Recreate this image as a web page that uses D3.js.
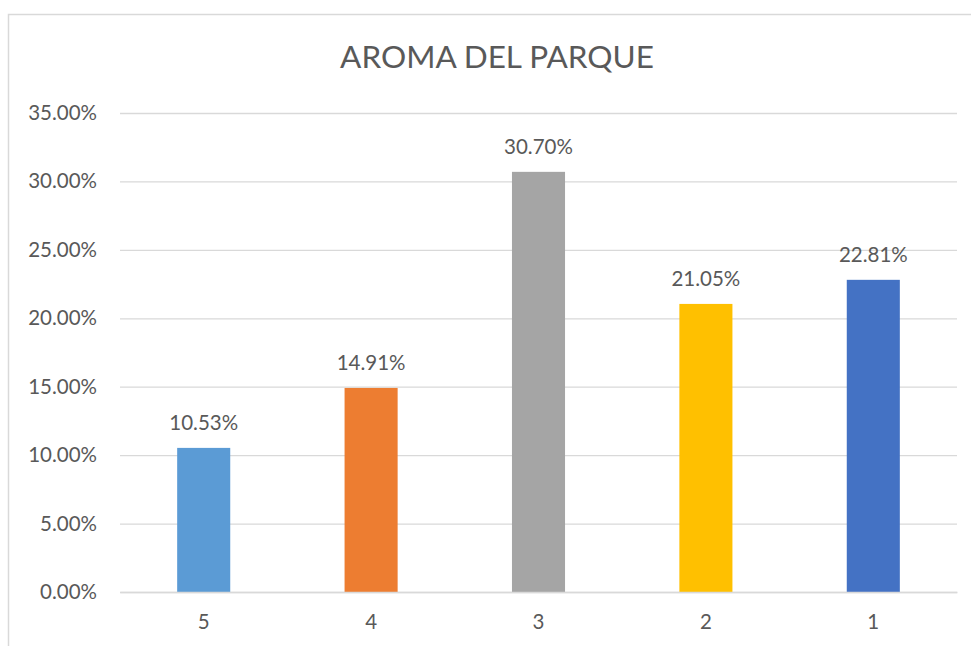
<!DOCTYPE html>
<html>
<head>
<meta charset="utf-8">
<script src="https://cdn.jsdelivr.net/npm/d3@7"></script>
<style>
  body { margin: 0; background: #fff; }
  text { font-family: Lato, "Open Sans", sans-serif; fill: #595959; }
</style>
</head>
<body>
<div id="root"></div>
<script>
var categories = ["5", "4", "3", "2", "1"];
var values = [0.1053, 0.1491, 0.3070, 0.2105, 0.2281];
var colors = ["#5B9BD5", "#ED7D31", "#A5A5A5", "#FFC000", "#4472C4"];
var yTicks = [0, 0.05, 0.10, 0.15, 0.20, 0.25, 0.30, 0.35];

var W = 971, H = 646;
var margin = { top: 113, right: 14, bottom: 54, left: 120 };
var width = W - margin.left - margin.right,
    height = H - margin.top - margin.bottom;

var svg = d3.select("#root").append("svg")
    .attr("width", W)
    .attr("height", H);

// chart border
svg.append("rect")
    .attr("x", 8.5).attr("y", 14.5)
    .attr("width", W).attr("height", H)
    .attr("fill", "none")
    .attr("stroke", "#d9d9d9")
    .attr("stroke-width", 1.5);

svg.append("text")
    .attr("x", 497).attr("y", 68)
    .attr("text-anchor", "middle")
    .style("font-size", "31.5px")
    .text("AROMA DEL PARQUE");

var g = svg.append("g")
    .attr("transform", "translate(" + margin.left + "," + margin.top + ")");

var x = d3.scaleBand()
    .domain(categories)
    .range([0, width])
    .paddingInner(0.683)
    .paddingOuter(0.683 / 2);

var y = d3.scaleLinear()
    .domain([0, 0.35])
    .range([height, 0]);

// gridlines + y labels
var yAxis = d3.axisLeft(y)
    .tickValues(yTicks)
    .tickSize(-width)
    .tickPadding(23)
    .tickFormat(function (d) { return (d * 100).toFixed(2) + "%"; });

var gy = g.append("g").call(yAxis);
gy.select(".domain").remove();
gy.selectAll(".tick line").attr("stroke", "#d9d9d9").attr("stroke-width", 1.3);
gy.selectAll(".tick text").style("font-size", "20.5px").attr("fill", "#595959");

// bars
g.selectAll(".bar")
    .data(values)
    .enter()
    .append("rect")
    .attr("class", "bar")
    .attr("x", function (d, i) { return x(categories[i]); })
    .attr("width", x.bandwidth())
    .attr("y", function (d) { return y(d); })
    .attr("height", function (d) { return height - y(d); })
    .attr("fill", function (d, i) { return colors[i]; });

// value labels
g.selectAll(".label")
    .data(values)
    .enter()
    .append("text")
    .attr("class", "label")
    .attr("x", function (d, i) { return x(categories[i]) + x.bandwidth() / 2; })
    .attr("y", function (d) { return y(d) - 18; })
    .attr("text-anchor", "middle")
    .style("font-size", "20.5px")
    .text(function (d) { return (d * 100).toFixed(2) + "%"; });

// x axis (zero line over the bars' base)
var xAxis = d3.axisBottom(x).tickSize(0).tickPadding(22);
var gx = g.append("g")
    .attr("transform", "translate(0," + height + ")")
    .call(xAxis);
gx.select(".domain").attr("stroke", "#d9d9d9").attr("stroke-width", 1.3);
gx.selectAll(".tick text").style("font-size", "20.5px").attr("fill", "#595959");
</script>
</body>
</html>
